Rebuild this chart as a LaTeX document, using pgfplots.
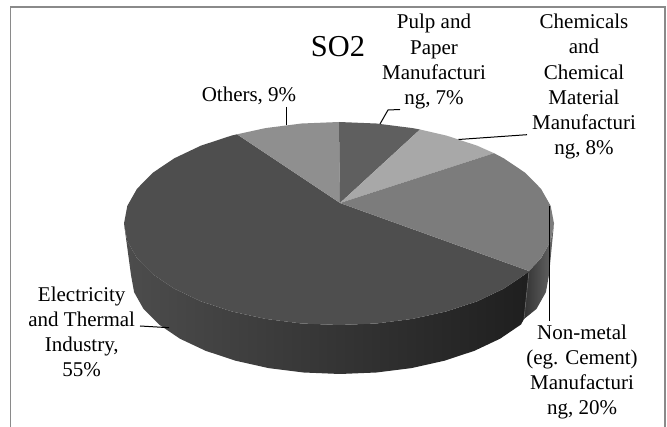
\documentclass[border=0pt]{standalone}
\usepackage{pgfplots}
\pgfplotsset{compat=1.18}
\usepackage{fontspec}
\setmainfont{Liberation Serif}
\definecolor{cOthers}{HTML}{8F8F8F}
\definecolor{cPulp}{HTML}{5F5F5F}
\definecolor{cChem}{HTML}{A8A8A8}
\definecolor{cNon}{HTML}{7C7C7C}
\definecolor{cElec}{HTML}{4E4E4E}
\definecolor{cFrame}{HTML}{8A8A8A}
\tikzset{lab/.style={inner sep=0pt, align=center, text=black, font=\fontsize{21}{25.2}\selectfont}}
\begin{document}
\begin{tikzpicture}
\begin{axis}[
  at={(0pt,0pt)}, anchor=south west,
  scale only axis, width=667pt, height=427pt,
  xmin=0, xmax=667, ymin=0, ymax=427, y dir=reverse,
  axis lines=none, clip=true,
]
% frame
\addplot[cFrame, line width=1.7pt, no marks] coordinates {(10.5,428) (10.5,7) (665,7) (665,428)};
% side of the large slice
\addplot[draw=none, left color=black!70, middle color=black!82, right color=black!88, no marks] coordinates {
(124,223.5)(127.3,241.1)(137,258.2)(152.8,274.25)(174.3,288.7)(200.8,301.3)(231.5,311.4)(265.5,318.9)(301.7,323.5)(339,325)(376.3,323.5)(412.5,318.9)(446.5,311.4)(477.2,301.3)(503.7,288.7)(525.2,274.25)(529,271)
(524,319)(521,324.5)(500.1,338.7)(474.4,350.8)(444.5,360.7)(411.5,368.1)(376.4,372.5)(340,374)(303.6,372.5)(268.5,368.1)(235.5,360.7)(205.6,350.8)(179.9,338.7)(159,324.5)(143.5,308.9)(134.1,292.2)(131,275)
(124,223.5)};
% side of the non-metal slice
\addplot[draw=none, left color=black!80, right color=black!60, no marks] coordinates {
(529,271)(541,258.2)(550.7,241.1)(554,223.5)(549,275)(545.9,292.2)(536.5,308.9)(524,319)(529,271)};
\addplot[black!62, line width=0.6pt, no marks] coordinates {(529,271)(524,319)};
% top faces
\addplot[draw=none, fill=cElec, no marks] coordinates {
(340,203)(529,271)(525.2,274.25)(503.7,288.7)(477.2,301.3)(446.5,311.4)(412.5,318.9)(376.3,323.5)(339,325)(301.7,323.5)(265.5,318.9)(231.5,311.4)(200.8,301.3)(174.3,288.7)(152.8,274.25)(137,258.2)(127.3,241.1)(124,223.5)(127.3,205.9)(137,188.8)(152.8,172.75)(174.3,158.3)(200.8,145.7)(231.5,135.6)(237,134.3)(340,203)};
\addplot[draw=none, fill=cOthers, no marks] coordinates {
(340,203)(237,134.3)(265.5,128.1)(301.7,123.5)(339,122)(340,203)};
\addplot[draw=none, fill=cPulp, no marks] coordinates {
(340,203)(339,122)(376.3,123.5)(412.5,128.1)(420,129.5)(340,203)};
\addplot[draw=none, fill=cChem, no marks] coordinates {
(340,203)(420,129.5)(446.5,135.6)(477.2,145.7)(494,153.2)(340,203)};
\addplot[draw=none, fill=cNon, no marks] coordinates {
(340,203)(494,153.2)(503.7,158.3)(525.2,172.75)(541,188.8)(550.7,205.9)(554,223.5)(550.7,241.1)(541,258.2)(529,271)(340,203)};
% leader lines
\addplot[black, line width=1pt, no marks] coordinates {(286,107)(286,125)};
\addplot[black, line width=1pt, no marks] coordinates {(400,109.5)(388,110)(380,124)};
\addplot[black, line width=1pt, no marks] coordinates {(527,134.7)(458.5,139.5)};
\addplot[black, line width=1pt, no marks] coordinates {(549,206)(549,320.7)};
\addplot[black, line width=1pt, no marks] coordinates {(140,326)(169,327.7)};
% texts
\node[lab, font=\fontsize{30.4}{36}\selectfont] at (axis cs:338,47) {SO2};
\node[lab] at (axis cs:249,96) {Others, 9\%};
\node[lab] at (axis cs:434,61.7) {Pulp and\\Paper\\Manufacturi\\ng, 7\%};
\node[lab] at (axis cs:584,86.7) {Chemicals\\and\\Chemical\\Material\\Manufacturi\\ng, 8\%};
\node[lab] at (axis cs:81.7,332) {Electricity\\and Thermal\\Industry,\\55\%};
\node[lab] at (axis cs:582,372) {Non-metal\\(eg. Cement)\\Manufacturi\\ng, 20\%};
\end{axis}
\path[use as bounding box] (0,0) rectangle (667pt,427pt);
\end{tikzpicture}
\end{document}
